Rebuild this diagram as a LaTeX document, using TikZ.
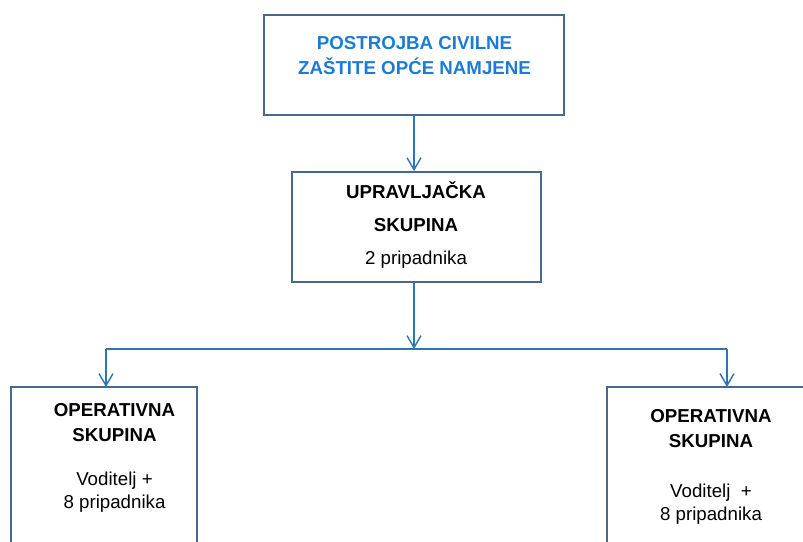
\documentclass[tikz,border=0pt]{standalone}
\usepackage{fontspec}
\setmainfont{Liberation Sans}
\usetikzlibrary{arrows.meta}
\definecolor{boxline}{RGB}{72,104,142}
\definecolor{arrline}{RGB}{46,117,182}
\definecolor{titleblue}{RGB}{28,124,212}
\tikzset{
  box/.style={draw=boxline, line width=1.8pt, fill=white, rectangle, inner sep=0pt},
  conn/.style={draw=arrline, line width=1.4pt},
  arr/.style={conn, -{Straight Barb[length=12pt,width=14pt,line width=1.4pt]}},
  txt/.style={anchor=base, inner sep=0pt, font=\fontsize{18.7}{22}\selectfont},
  btxt/.style={txt, font=\fontsize{18.7}{22}\selectfont\bfseries},
}
\begin{document}
\begin{tikzpicture}[x=1pt,y=-1pt]
\useasboundingbox (0,0) rectangle (803,541);
\clip (0,0) rectangle (803,541);
% boxes
\node[box, minimum width=300pt, minimum height=100pt] (top) at (414,65) {};
\node[box, minimum width=249pt, minimum height=110pt] (mid) at (416.5,227) {};
\node[box, minimum width=186pt, minimum height=200pt] (left) at (104,487) {};
\node[box, minimum width=250pt, minimum height=200pt] (right) at (732,487) {};
% texts
\node[btxt, text=titleblue] (t1) at (414.5,49) {POSTROJBA CIVILNE};
\node[btxt, text=titleblue] (t2) at (414.5,74) {ZAŠTITE OPĆE NAMJENE};
\node[btxt] (m1) at (416,198) {UPRAVLJAČKA};
\node[btxt] (m2) at (416,231) {SKUPINA};
\node[txt] (m3) at (416,264) {2 pripadnika};
\node[btxt] (l1) at (114.5,416) {OPERATIVNA};
\node[btxt] (l2) at (114.5,441) {SKUPINA};
\node[txt] (l3) at (114.5,485) {Voditelj +};
\node[txt] (l4) at (114.5,508) {8 pripadnika};
\node[btxt] (r1) at (711,422) {OPERATIVNA};
\node[btxt] (r2) at (711,447) {SKUPINA};
\node[txt] (r3) at (711,497) {Voditelj\ \ +};
\node[txt] (r4) at (711,520) {8 pripadnika};
% connectors
\coordinate (a1) at (414,115);
\coordinate (j) at (414,349);
\coordinate (jl) at (106,349);
\coordinate (jr) at (727,349);
\coordinate (el) at (106,387);
\coordinate (er) at (727,387);
\draw[arr] (a1) -- (a1 |- mid.north);
\draw[arr] (mid.south -| j) -- (j);
\draw[conn] (jl) -- (jr);
\draw[arr] (jl) -- (el);
\draw[arr] (jr) -- (er);
\end{tikzpicture}
\end{document}
